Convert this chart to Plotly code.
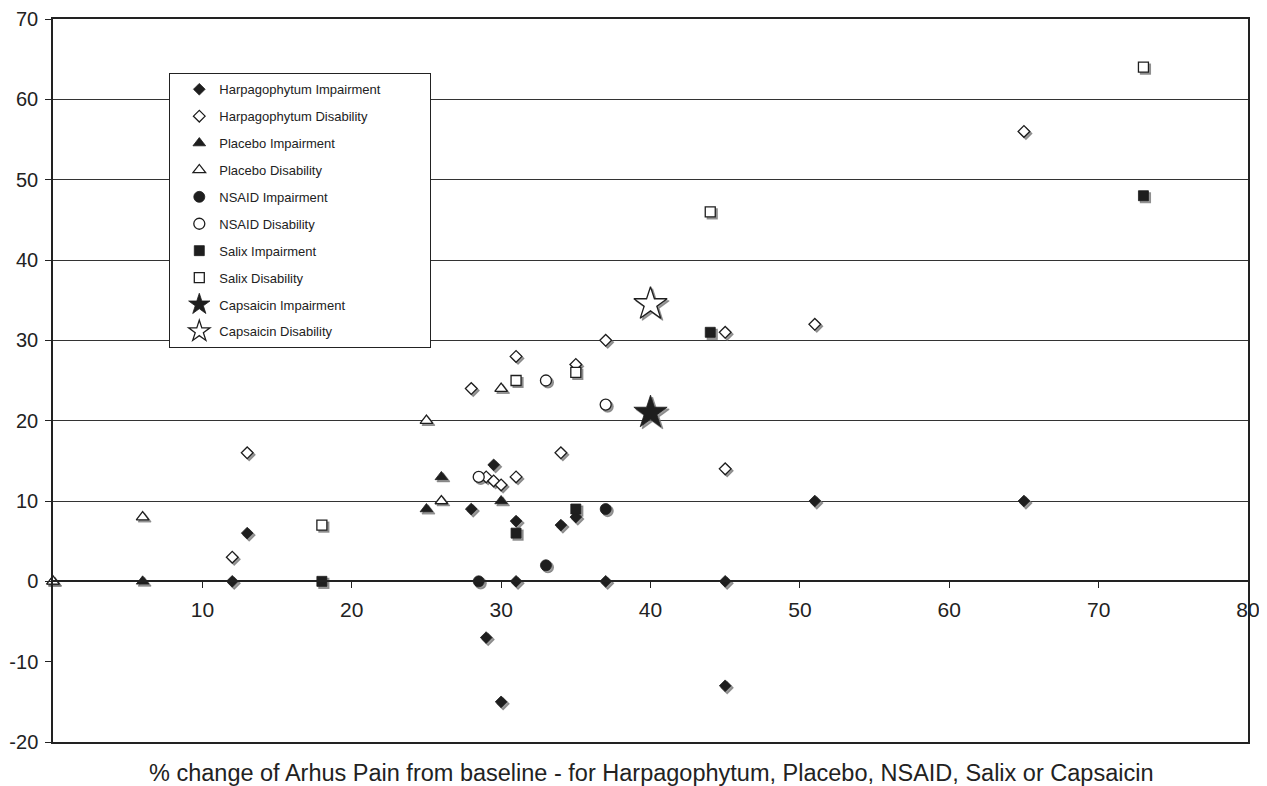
import plotly.graph_objects as go

# ---- data ----
harp_imp_x = [12, 13, 28, 29.5, 29, 30, 31, 31, 34, 35, 37, 45, 45, 51, 65]
harp_imp_y = [0, 6, 9, 14.5, -7, -15, 7.5, 0, 7, 8, 0, 0, -13, 10, 10]
harp_dis_x = [12, 13, 28, 31, 35, 37, 45, 51, 65, 29, 29.5, 30, 31, 34, 45]
harp_dis_y = [3, 16, 24, 28, 27, 30, 31, 32, 56, 13, 12.5, 12, 13, 16, 14]
plac_imp_x = [0, 6, 25, 26, 30]
plac_imp_y = [0, 0, 9, 13, 10]
plac_dis_x = [0, 6, 25, 26, 30]
plac_dis_y = [0, 8, 20, 10, 24]
nsaid_imp_x = [28.5, 33, 37]
nsaid_imp_y = [0, 2, 9]
nsaid_dis_x = [28.5, 33, 37]
nsaid_dis_y = [13, 25, 22]
salix_imp_x = [18, 31, 35, 44, 73]
salix_imp_y = [0, 6, 9, 31, 48]
salix_dis_x = [18, 31, 35, 44, 73]
salix_dis_y = [7, 25, 26, 46, 64]
caps_imp_x = [40]
caps_imp_y = [21]
caps_dis_x = [40]
caps_dis_y = [34.5]

x_ticks = [10, 20, 30, 40, 50, 60, 70, 80]
y_ticks = [-20, -10, 0, 10, 20, 30, 40, 50, 60, 70]
y_tick_text = ["-20", "-10", "0", "10", "20", "30", "40", "50", "60", "70"]
grid_ticks = [10, 20, 30, 40, 50, 60]
x_title = "% change of Arhus Pain from baseline - for Harpagophytum, Placebo, NSAID, Salix or Capsaicin"

# ---- styling ----
PAGE_OFF = 8                      # default body margin of the html page
W, H = 1267 - PAGE_OFF, 786 - PAGE_OFF
M_L, M_R, M_T, M_B = 53 - PAGE_OFF, 19, 19 - PAGE_OFF, 44
X_RANGE = [0, 80]
Y_RANGE = [-20, 70]
FONT = "Liberation Sans, Arial, sans-serif"
INK = "#1e1e1e"
SHADOW = "rgba(120,120,120,0.75)"
SH_PX = 2.0
LEG_PAD = "\u00a0" * 12

plot_w = W - M_L - M_R
plot_h = H - M_T - M_B
dx = SH_PX * (X_RANGE[1] - X_RANGE[0]) / plot_w
dy = SH_PX * (Y_RANGE[1] - Y_RANGE[0]) / plot_h

series = [
    ("Harpagophytum Impairment", harp_imp_x, harp_imp_y, "diamond", 9, True),
    ("Harpagophytum Disability", harp_dis_x, harp_dis_y, "diamond", 9, False),
    ("Placebo Impairment", plac_imp_x, plac_imp_y, "triangle-up", 11, True),
    ("Placebo Disability", plac_dis_x, plac_dis_y, "triangle-up", 11, False),
    ("NSAID Impairment", nsaid_imp_x, nsaid_imp_y, "circle", 11, True),
    ("NSAID Disability", nsaid_dis_x, nsaid_dis_y, "circle", 11, False),
    ("Salix Impairment", salix_imp_x, salix_imp_y, "square", 10, True),
    ("Salix Disability", salix_dis_x, salix_dis_y, "square", 10, False),
    ("Capsaicin Impairment", caps_imp_x, caps_imp_y, "star", 25, True),
    ("Capsaicin Disability", caps_dis_x, caps_dis_y, "star", 25, False),
]

fig = go.Figure()

# shadows (base axes, range shifted by a couple of pixels)
for name, xs, ys, sym, size, filled in series:
    fig.add_trace(go.Scatter(
        x=xs, y=ys, mode="markers", xaxis="x", yaxis="y",
        marker=dict(symbol=sym, size=size, color=SHADOW, line=dict(width=1.2, color=SHADOW)),
        showlegend=False, hoverinfo="skip", cliponaxis=False,
    ))

# grid / frame carrier
fig.add_trace(go.Scatter(x=[], y=[], xaxis="x3", yaxis="y3", showlegend=False))

# main markers
for i, (name, xs, ys, sym, size, filled) in enumerate(series):
    fig.add_trace(go.Scatter(
        x=xs, y=ys, mode="markers", name=name + LEG_PAD, xaxis="x2", yaxis="y2",
        legendgroup="g%d" % i,
        marker=dict(symbol=sym, size=size,
                    color=INK if filled else "white",
                    line=dict(width=1.3 if not filled else 0.8, color=INK)),
        cliponaxis=False,
    ))

fig.update_layout(
    template="none",
    width=W, height=H,
    margin=dict(l=M_L, r=M_R, t=M_T, b=M_B, autoexpand=False),
    paper_bgcolor="white", plot_bgcolor="white",
    font=dict(family=FONT, color="#222222"),
    xaxis=dict(range=[X_RANGE[0] - dx, X_RANGE[1] - dx], visible=False, domain=[0, 1],
               automargin=False),
    yaxis=dict(range=[Y_RANGE[0] + dy, Y_RANGE[1] + dy], visible=False, domain=[0, 1],
               automargin=False),
    xaxis3=dict(range=X_RANGE, overlaying="x", anchor="y3", showline=True, mirror=True,
                linecolor="#222222", linewidth=1.5, showgrid=False, zeroline=False,
                ticks="", showticklabels=False, automargin=False),
    yaxis3=dict(range=Y_RANGE, overlaying="y", anchor="x3", showline=False,
                tickvals=grid_ticks, showgrid=True, gridcolor="#333333", gridwidth=1,
                zeroline=False, ticks="", showticklabels=False, automargin=False),
    xaxis2=dict(range=X_RANGE, overlaying="x", anchor="free",
                position=(0 - Y_RANGE[0]) / (Y_RANGE[1] - Y_RANGE[0]),
                showline=True, linecolor="#222222", linewidth=1.5,
                tickvals=x_ticks, ticks="outside", ticklen=6, tickwidth=1.2,
                tickcolor="#222222", ticklabelstandoff=4,
                tickfont=dict(size=21, family=FONT, color="#222222"),
                showgrid=False, zeroline=False, automargin=False),
    yaxis2=dict(range=Y_RANGE, overlaying="y", anchor="x2", side="left",
                showline=True, mirror=True, linecolor="#222222", linewidth=1.5,
                tickvals=y_ticks, ticktext=y_tick_text, ticks="outside", ticklen=6,
                tickwidth=1.2, tickcolor="#222222", ticklabelstandoff=3,
                tickfont=dict(size=20, family=FONT, color="#222222"),
                showgrid=False, zeroline=False, automargin=False),
    legend=dict(x=(169 - PAGE_OFF - M_L) / plot_w, y=(H - M_B - (73 - PAGE_OFF)) / plot_h,
                xanchor="left", yanchor="top",
                bgcolor="white", bordercolor="#222222", borderwidth=1.3,
                font=dict(size=13, family=FONT, color="#222222"),
                traceorder="grouped", tracegroupgap=7, itemsizing="trace",
                indentation=9),
    annotations=[dict(text=x_title, xref="paper", yref="paper", x=0.5,
                      y=-31 / plot_h, xanchor="center", yanchor="middle",
                      showarrow=False, font=dict(size=23.5, family=FONT, color="#222222"))],
    showlegend=True,
)

fig.write_html("out.html")
